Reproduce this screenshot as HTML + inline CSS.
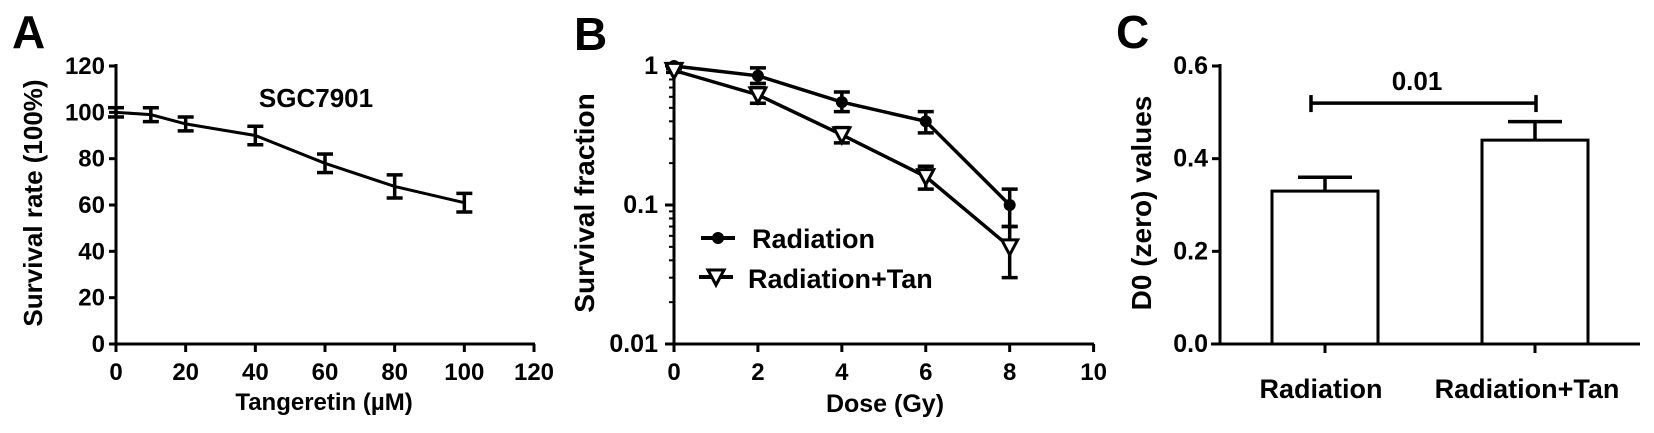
<!DOCTYPE html>
<html><head><meta charset="utf-8"><style>
html,body{margin:0;padding:0;background:#fff;}
svg{display:block;font-family:"Liberation Sans",Arial,sans-serif;font-weight:bold;}
</style></head><body>
<svg id="fig" width="1654" height="433" viewBox="0 0 1654 433" xmlns="http://www.w3.org/2000/svg"></svg>
<script>
// Panel A data
const aDoses = [0, 10, 20, 40, 60, 80, 100];
const aSurvival = [100, 99, 95, 90, 78, 68, 61];
const aErr = [2, 3, 3, 4, 4, 5, 4];
const aXTicks = [0, 20, 40, 60, 80, 100, 120];
const aYTicks = [0, 20, 40, 60, 80, 100, 120];
// Panel B data
const bDoses = [0, 2, 4, 6, 8];
const bRad = [1.0, 0.85, 0.55, 0.40, 0.10];
const bRadHi = [1.02, 0.97, 0.65, 0.47, 0.13];
const bRadLo = [0.98, 0.75, 0.47, 0.33, 0.07];
const bTan = [0.93, 0.62, 0.32, 0.16, 0.05];
const bTanHi = [0.96, 0.70, 0.36, 0.19, 0.07];
const bTanLo = [0.90, 0.54, 0.28, 0.13, 0.03];
const bXTicks = [0, 2, 4, 6, 8, 10];
const bYTicks = [1, 0.1, 0.01];
const bYLabels = ["1", "0.1", "0.01"];
// Panel C data
const cCats = ["Radiation", "Radiation+Tan"];
const cVals = [0.33, 0.44];
const cErr = [0.03, 0.04];
const cYTicks = [0, 0.2, 0.4, 0.6];
const cYLabels = ["0.0", "0.2", "0.4", "0.6"];
const cSig = 0.52;

const NS = "http://www.w3.org/2000/svg";
const svg = document.getElementById("fig");
function mk(tag, attrs, parent) {
  const e = document.createElementNS(NS, tag);
  for (const k in attrs) e.setAttribute(k, attrs[k]);
  (parent || svg).appendChild(e);
  return e;
}
function line(x1,y1,x2,y2,w,p){return mk("line",{x1,y1,x2,y2,stroke:"#000","stroke-width":w||3},p);}
function txt(s,x,y,size,anchor,p,rot){const t=mk("text",{x,y,"font-size":size,"text-anchor":anchor||"middle",fill:"#000"},p);if(rot)t.setAttribute("transform",rot);t.textContent=s;return t;}

// ---------- Panel A ----------
const gA = mk("g",{});


const ax = v => 116 + v * (534 - 116) / 120;
const ay = v => 344 - v * (344 - 66) / 120;
let t = txt("A", 12, 48, 46, "start", gA);


line(116, 64, 116, 345, 3, gA);
line(114, 344, 535, 344, 3, gA);
aYTicks.forEach(v => { line(109, ay(v), 116, ay(v), 3, gA); const l = txt(String(v), 105, ay(v) + 8, 24, "end", gA);
  
   });
aXTicks.forEach(v => { line(ax(v), 344, ax(v), 352, 3, gA); const l = txt(String(v), ax(v), 380, 24, "middle", gA);
  
   });
t = txt("Survival rate (100%)", 0, 0, 26, "middle", gA, "translate(42,203) rotate(-90)");


t = txt("Tangeretin (\u00b5M)", 324, 410, 24, "middle", gA);


t = txt("SGC7901", 316, 107, 26, "middle", gA);


const aPath = mk("polyline",{points: aDoses.map((d,i)=>ax(d)+","+ay(aSurvival[i])).join(" "), fill:"none", stroke:"#000","stroke-width":3}, gA);


aDoses.forEach((d,i) => {
  const g = mk("g",{},gA);
  
  
  const x = ax(d), hi = ay(aSurvival[i]+aErr[i]), lo = ay(aSurvival[i]-aErr[i]);
  line(x, hi, x, lo, 3.5, g); line(x-8, hi, x+8, hi, 3.5, g); line(x-8, lo, x+8, lo, 3.5, g);
});

// ---------- Panel B ----------
const gB = mk("g",{});


const bx = v => 674 + v * 41.96;
const by = v => 66 + (0 - Math.log10(v)) * 139;
t = txt("B", 574, 50, 46, "start", gB);


line(674, 64, 674, 345, 3, gB);
line(672, 344, 1094, 344, 3, gB);
bYTicks.forEach((v,i) => { line(665, by(v), 674, by(v), 3, gB); const l = txt(bYLabels[i], 658, by(v) + 8, 25, "end", gB);
  
   });
[0.01, 0.1].forEach(dec => { for (let k = 2; k <= 9; k++) line(669, by(dec*k), 674, by(dec*k), 2, gB); });
bXTicks.forEach(v => { line(bx(v), 344, bx(v), 352, 3, gB); const l = txt(String(v), bx(v), 380, 24, "middle", gB);
  
   });
t = txt("Survival fraction", 0, 0, 28, "middle", gB, "translate(594,203) rotate(-90)");


t = txt("Dose (Gy)", 885, 412, 25, "middle", gB);


function drawSeries(vals, hi, lo, name, marker) {
  const g = mk("g",{},gB);
  
  
  mk("polyline",{points: bDoses.map((d,i)=>bx(d)+","+by(vals[i])).join(" "), fill:"none", stroke:"#000","stroke-width":3.5}, g);
  bDoses.forEach((d,i) => {
    const x = bx(d), h = by(hi[i]), l = by(lo[i]);
    line(x, h, x, l, 3.5, g); line(x-8, h, x+8, h, 3.5, g); line(x-8, l, x+8, l, 3.5, g);
    const y = by(vals[i]);
    if (marker === "circle") { const m = mk("circle",{cx:x, cy:y, r:6, fill:"#000"}, g);
      
       }
    else { const m = mk("polygon",{points:`${x-8},${y-7} ${x+8},${y-7} ${x},${y+8}`, fill:"#fff", stroke:"#000","stroke-width":3}, g);
      
       }
  });
}
drawSeries(bRad, bRadHi, bRadLo, "series-radiation", "circle");
drawSeries(bTan, bTanHi, bTanLo, "series-radiation-tan", "tri");
const lg1 = mk("g",{},gB);


line(701, 238, 735, 238, 4, lg1); mk("circle",{cx:718, cy:238, r:6, fill:"#000"}, lg1);
txt("Radiation", 752, 248, 27, "start", lg1);
const lg2 = mk("g",{},gB);


line(699, 277, 733, 277, 4, lg2); mk("polygon",{points:"708,270 724,270 716,285", fill:"#fff", stroke:"#000","stroke-width":3}, lg2);
txt("Radiation+Tan", 748, 288, 27, "start", lg2);

// ---------- Panel C ----------
const gC = mk("g",{});


const cy = v => 344 - v * (344 - 66) / 0.6;
const cCenters = [1325, 1535];
const barW = 106;
t = txt("C", 1116, 48, 46, "start", gC);


line(1220, 64, 1220, 345, 3, gC);
line(1211, 344, 1640, 344, 3, gC);
cYTicks.forEach((v,i) => { line(1212, cy(v), 1220, cy(v), 3, gC); const l = txt(cYLabels[i], 1208, cy(v) + 8, 25, "end", gC);
  
   });
t = txt("D0 (zero) values", 0, 0, 28, "middle", gC, "translate(1151,203) rotate(-90)");


cCats.forEach((c,i) => {
  const x = cCenters[i];
  const b = mk("rect",{x: x - barW/2, y: cy(cVals[i]), width: barW, height: 344 - cy(cVals[i]), fill:"#fff", stroke:"#000", "stroke-width":3}, gC);
  
  
  const e = mk("g",{},gC);
  
  
  line(x, cy(cVals[i]), x, cy(cVals[i]+cErr[i]), 3.5, e);
  line(x-27, cy(cVals[i]+cErr[i]), x+27, cy(cVals[i]+cErr[i]), 3.5, e);
  line(x, 344, x, 353, 3, gC);
  const l = txt(c, x + (i===0 ? -4 : -8), 398, 27, "middle", gC);
  
  
});
const sg = mk("g",{},gC);


line(1311, cy(cSig), 1536, cy(cSig), 3.5, sg);
line(1311, cy(cSig)-8, 1311, cy(cSig)+9, 3.5, sg);
line(1536, cy(cSig)-8, 1536, cy(cSig)+9, 3.5, sg);
t = txt("0.01", 1417, 90, 26, "middle", sg);


</script>
</body></html>
